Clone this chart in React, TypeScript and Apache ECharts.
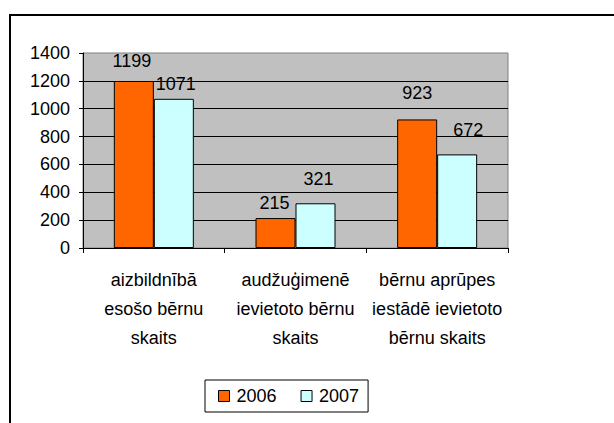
import React, { useEffect, useRef } from "react";
import * as echarts from "echarts";

const categories = [
  "aizbildnībā\nesošo bērnu\nskaits",
  "audžuģimenē\nievietoto bērnu\nskaits",
  "bērnu aprūpes\niestādē ievietoto\nbērnu skaits",
];
const seriesNames = ["2006", "2007"];
const values2006 = [1199, 215, 923];
const values2007 = [1071, 321, 672];

// label nudges [dx, dy] (styling only)
const nudge2006 = [[-2, -7], [-1, -2], [0, -13]];
const nudge2007 = [[2, -2], [3, -11], [11, -11]];

const FONT = "'Liberation Sans', Arial, sans-serif";
const FS = 18;

export default function App() {
  const ref = useRef<HTMLDivElement>(null);
  useEffect(() => {
    const chart = echarts.init(ref.current!, null, { renderer: "svg" });
    const mk = (vals: number[], nudges: number[][]) =>
      vals.map((v, i) => ({ value: v, label: { offset: nudges[i] } }));
    chart.setOption({
      animation: false,
      backgroundColor: "#ffffff",
      textStyle: { fontFamily: FONT },
      graphic: [
        {
          type: "rect",
          shape: { x: 10, y: 15, width: 700, height: 500 },
          style: { fill: "none", stroke: "#000", lineWidth: 2 },
          z: 100,
        },
      ],
      grid: {
        left: 83,
        right: 106,
        top: 53,
        bottom: 175,
        show: true,
        backgroundColor: "#C0C0C0",
        borderColor: "#808080",
        borderWidth: 1,
      },
      legend: {
        left: 205,
        top: 380,
        data: seriesNames,
        icon: "rect",
        itemWidth: 11,
        itemHeight: 11,
        itemGap: 24,
        padding: [7, 9, 7, 13],
        backgroundColor: "#fff",
        borderColor: "#000",
        borderWidth: 1,
        itemStyle: { borderColor: "#000", borderWidth: 1 },
        textStyle: { fontSize: FS, color: "#000", fontFamily: FONT, padding: [0, 0, 0, 2] },
      },
      xAxis: {
        type: "category",
        data: categories,
        axisLine: { show: true, lineStyle: { color: "#000", width: 1 } },
        axisTick: { show: true, length: 5, lineStyle: { color: "#000" } },
        axisLabel: {
          interval: 0,
          color: "#000",
          fontSize: FS,
          fontFamily: FONT,
          lineHeight: 29,
          margin: 17,
        },
      },
      yAxis: {
        type: "value",
        min: 0,
        max: 1400,
        interval: 200,
        axisLine: { show: true, lineStyle: { color: "#000", width: 1 } },
        axisTick: { show: true, length: 4, lineStyle: { color: "#000" } },
        axisLabel: {
          color: "#000",
          fontSize: FS,
          fontFamily: FONT,
          margin: 13,
          formatter: (v: number) => String(v),
        },
        splitLine: { show: true, showMaxLine: false, lineStyle: { color: "#000", width: 1 } },
      },
      series: [
        {
          name: seriesNames[0],
          type: "bar",
          data: mk(values2006, nudge2006),
          barWidth: 40,
          barGap: "0%",
          itemStyle: { color: "#FF6600", borderColor: "#000", borderWidth: 1 },
          label: { show: true, position: "top", distance: 4, color: "#000", fontSize: FS, fontFamily: FONT },
        },
        {
          name: seriesNames[1],
          type: "bar",
          data: mk(values2007, nudge2007),
          barWidth: 40,
          itemStyle: { color: "#CCFFFF", borderColor: "#000", borderWidth: 1 },
          label: { show: true, position: "top", distance: 4, color: "#000", fontSize: FS, fontFamily: FONT },
        },
      ],
    });
    return () => chart.dispose();
  }, []);
  return (
    <div
      ref={ref}
      style={{ position: "fixed", left: 0, top: 0, width: 614, height: 423 }}
    />
  );
}
